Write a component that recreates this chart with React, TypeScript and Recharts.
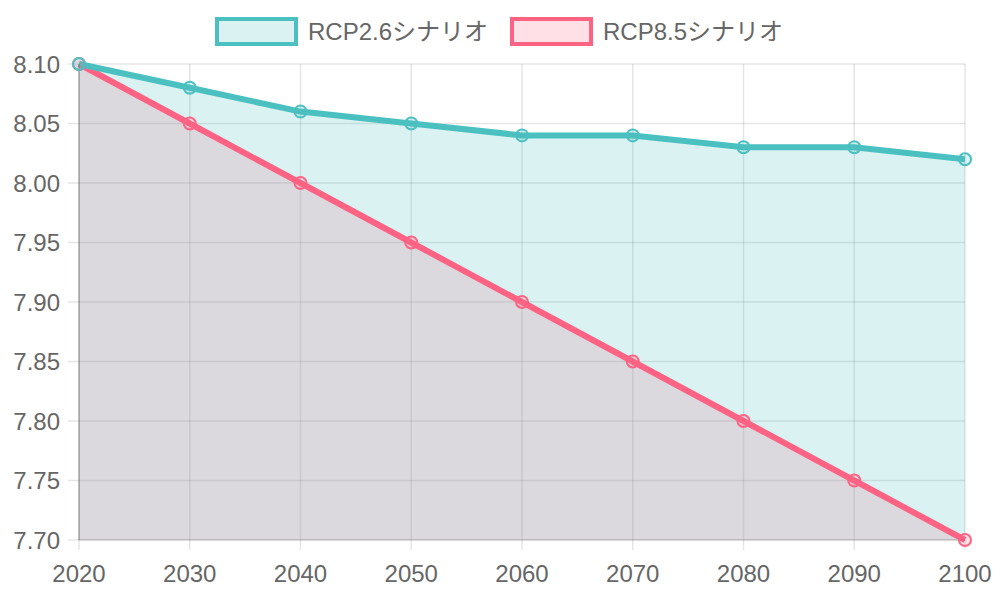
import React from "react";
import { ComposedChart, Area, Line, XAxis, YAxis, CartesianGrid } from "recharts";

const years = [2020, 2030, 2040, 2050, 2060, 2070, 2080, 2090, 2100];
const rcp26 = [8.1, 8.08, 8.06, 8.05, 8.04, 8.04, 8.03, 8.03, 8.02];
const rcp85 = [8.1, 8.05, 8.0, 7.95, 7.9, 7.85, 7.8, 7.75, 7.7];
const yTicks = [7.7, 7.75, 7.8, 7.85, 7.9, 7.95, 8.0, 8.05, 8.1];
const seriesNames = ["RCP2.6シナリオ", "RCP8.5シナリオ"];

const data = years.map((y, i) => ({ year: y, a: rcp26[i], b: rcp85[i] }));

const TEAL = "rgb(75,192,192)";
const TEAL_FILL = "rgba(75,192,192,0.2)";
const PINK = "rgb(255,99,132)";
const PINK_FILL = "rgba(255,99,132,0.2)";
const FONT = "'Liberation Sans', Arial, 'Noto Sans CJK JP', sans-serif";

const LegendBox = ({ x, color, fill, label }: { x: number; color: string; fill: string; label: string }) => (
  <div style={{ position: "absolute", left: x, top: 17, display: "flex", alignItems: "center" }}>
    <div style={{ width: 75, height: 21, border: `4px solid ${color}`, background: fill }} />
    <span style={{ marginLeft: 10, fontSize: 24, color: "#666", fontFamily: FONT, lineHeight: "29px" }}>{label}</span>
  </div>
);

export default function App() {
  return (
    <div style={{ position: "absolute", left: 0, top: 0, width: 1000, height: 600, background: "#fff" }}>
      <LegendBox x={215} color={TEAL} fill={TEAL_FILL} label={seriesNames[0]} />
      <LegendBox x={510} color={PINK} fill={PINK_FILL} label={seriesNames[1]} />
      <ComposedChart width={1000} height={600} data={data} margin={{ top: 64, right: 35, bottom: 0, left: 0 }}>
        <CartesianGrid stroke="rgba(0,0,0,0.1)" strokeWidth={1.5} />
        <XAxis
          dataKey="year"
          type="number"
          domain={[2020, 2100]}
          ticks={years}
          height={60}
          tickSize={10}
          tickMargin={15}
          tick={{ fill: "#666", fontSize: 24, fontFamily: FONT }}
          tickLine={{ stroke: "rgba(0,0,0,0.1)", strokeWidth: 1.5 }}
          axisLine={{ stroke: "rgba(0,0,0,0.1)", strokeWidth: 1.5 }}
        />
        <YAxis
          type="number"
          domain={[7.7, 8.1]}
          ticks={yTicks}
          width={79}
          tickSize={11}
          tickMargin={8}
          tickFormatter={(v: number) => v.toFixed(2)}
          tick={{ fill: "#666", fontSize: 24, fontFamily: FONT }}
          tickLine={{ stroke: "rgba(0,0,0,0.1)", strokeWidth: 1.5 }}
          axisLine={{ stroke: "rgba(0,0,0,0.25)", strokeWidth: 1.5 }}
        />
        <Area dataKey="b" type="linear" stroke="none" fill={PINK_FILL} fillOpacity={1} isAnimationActive={false} dot={false} activeDot={false} />
        <Area dataKey="a" type="linear" stroke="none" fill={TEAL_FILL} fillOpacity={1} isAnimationActive={false} dot={false} activeDot={false} />
        <Line
          dataKey="b"
          type="linear"
          stroke={PINK}
          strokeWidth={6}
          dot={{ r: 6, stroke: PINK, strokeWidth: 2, fill: PINK_FILL }}
          activeDot={false}
          isAnimationActive={false}
        />
        <Line
          dataKey="a"
          type="linear"
          stroke={TEAL}
          strokeWidth={6}
          dot={{ r: 6, stroke: TEAL, strokeWidth: 2, fill: TEAL_FILL }}
          activeDot={false}
          isAnimationActive={false}
        />
      </ComposedChart>
    </div>
  );
}
